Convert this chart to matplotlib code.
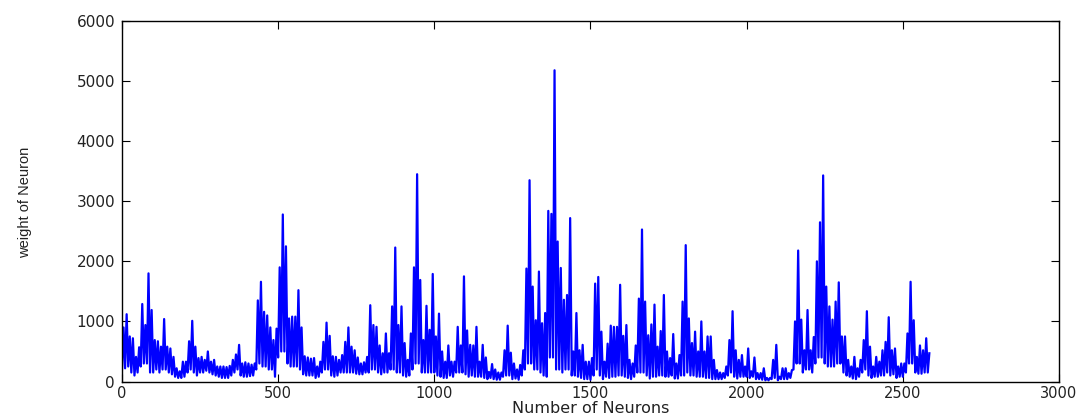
import numpy as np
import matplotlib
matplotlib.use("Agg")
import matplotlib.pyplot as plt

# weights, one high and one low per block of 10 neurons
peak_w = [900, 1120, 750, 720, 410, 570, 1290, 940, 1800, 1190,
          690, 670, 580, 1040, 580, 550, 410, 220, 170, 330,
          330, 670, 1010, 580, 390, 410, 360, 500, 330, 360,
          250, 250, 250, 240, 260, 360, 450, 610, 300, 320,
          300, 280, 300, 1350, 1660, 1160, 1100, 900, 690, 880,
          1900, 2780, 2250, 1050, 1080, 1080, 1520, 900, 420, 400,
          380, 390, 250, 330, 660, 980, 760, 420, 410, 360,
          440, 660, 900, 580, 520, 400, 300, 320, 410, 1270,
          940, 910, 600, 470, 800, 470, 1250, 2230, 940, 1250,
          640, 360, 800, 1900, 3450, 1690, 690, 1260, 860, 1790,
          750, 1130, 500, 330, 600, 330, 330, 910, 600, 1750,
          850, 610, 600, 910, 330, 610, 400, 160, 290, 200,
          150, 150, 520, 930, 480, 300, 200, 275, 520, 1880,
          3350, 1580, 1020, 1830, 970, 1140, 2840, 2790, 5180, 2330,
          1890, 1360, 1440, 2720, 500, 1140, 520, 610, 330, 330,
          390, 1630, 1740, 830, 330, 630, 930, 910, 910, 1610,
          760, 940, 360, 300, 600, 1380, 2530, 1330, 770, 950,
          1280, 580, 840, 1440, 500, 390, 790, 300, 440, 1330,
          2270, 1050, 640, 830, 500, 1000, 500, 750, 750, 360,
          190, 150, 140, 250, 690, 1170, 520, 360, 440, 250,
          550, 170, 400, 140, 140, 220, 60, 60, 360, 610,
          80, 220, 220, 140, 190, 1000, 2180, 1030, 520, 1190,
          520, 740, 2000, 2650, 3430, 1580, 1250, 1030, 1330, 1650,
          750, 750, 360, 250, 410, 220, 360, 690, 1170, 580,
          250, 410, 330, 520, 660, 1070, 520, 550, 250, 300,
          300, 800, 1660, 1020, 410, 600, 520, 720, 470]

trough_w = [200, 220, 250, 150, 100, 150, 250, 300, 300, 150,
            150, 200, 150, 200, 200, 150, 120, 80, 60, 60,
            80, 150, 200, 150, 100, 150, 150, 180, 150, 120,
            100, 80, 60, 60, 60, 100, 150, 200, 100, 80,
            80, 90, 100, 200, 300, 250, 250, 200, 200, 80,
            400, 500, 500, 300, 250, 250, 250, 200, 120, 100,
            100, 100, 60, 80, 150, 200, 200, 100, 80, 100,
            150, 150, 150, 150, 150, 130, 120, 120, 150, 150,
            200, 200, 150, 120, 150, 150, 200, 200, 150, 150,
            100, 80, 100, 200, 300, 300, 150, 150, 150, 150,
            150, 100, 80, 60, 60, 100, 80, 150, 150, 150,
            120, 80, 100, 80, 80, 80, 60, 40, 60, 40,
            30, 30, 80, 100, 100, 40, 50, 30, 100, 200,
            300, 300, 200, 200, 150, 100, 80, 400, 400, 200,
            200, 150, 200, 200, 100, 100, 80, 60, 40, 40,
            30, 100, 200, 100, 40, 80, 60, 80, 80, 100,
            100, 80, 60, 40, 80, 150, 150, 150, 100, 50,
            80, 80, 100, 100, 80, 80, 100, 50, 50, 100,
            100, 150, 100, 100, 80, 80, 80, 60, 60, 40,
            40, 40, 40, 60, 100, 150, 80, 50, 80, 80,
            80, 60, 80, 40, 40, 30, 20, 20, 40, 60,
            20, 40, 40, 40, 60, 200, 300, 300, 150, 200,
            200, 150, 300, 400, 400, 300, 250, 250, 250, 300,
            300, 150, 100, 80, 50, 40, 80, 150, 200, 100,
            60, 80, 80, 100, 100, 150, 100, 120, 60, 80,
            80, 150, 300, 300, 150, 130, 130, 150, 150]

x_ticks = [0, 500, 1000, 1500, 2000, 2500, 3000]
y_ticks = [0, 1000, 2000, 3000, 4000, 5000, 6000]

weights = []
for lo, hi in zip(trough_w, peak_w):
    weights.append(lo)
    weights.append(hi)
neurons = np.arange(len(weights)) * 5

fig = plt.figure(figsize=(10.87, 4.17), dpi=100)
ax = fig.add_axes([0.1122, 0.0851, 0.8620, 0.8645])
ax.plot(neurons, weights, color='#0000ff', linewidth=1.6)

ax.set_xlim(0, 3000)
ax.set_ylim(0, 6000)
ax.set_xticks(x_ticks)
ax.set_yticks(y_ticks)
ax.tick_params(direction='in', length=6, width=0.8, top=True, right=True,
               labelsize=11, pad=5)
ax.tick_params(axis='x', labelsize=10.5, pad=3)
for lab in ax.get_xticklabels() + ax.get_yticklabels():
    lab.set_family('DejaVu Sans')
    lab.set_color('#222222')
for sp in ax.spines.values():
    sp.set_linewidth(1.0)

ax.set_xlabel("Number of Neurons", fontsize=11.5, family='DejaVu Sans',
              color='#222222', labelpad=0)
fig.text(0.023, 0.514, "weight of Neuron", rotation=90, fontsize=10.5,
         family='Liberation Sans', ha='center', va='center', color='#222222')

fig.savefig("out.png", dpi=100)
